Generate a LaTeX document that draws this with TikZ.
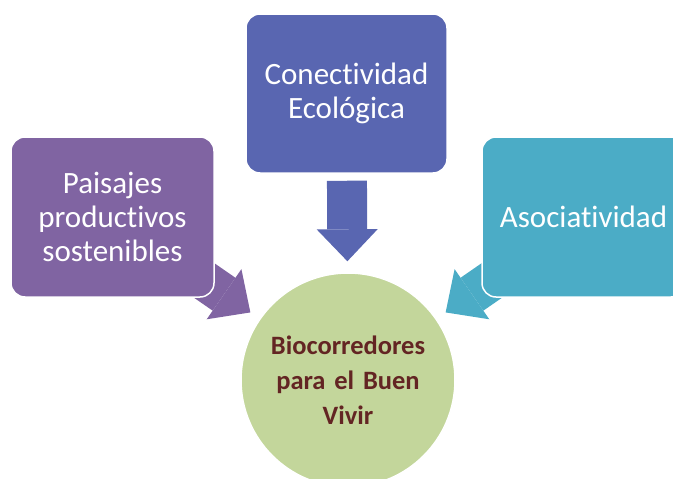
\documentclass[tikz,border=0pt]{standalone}
\usepackage{fontspec}
\setmainfont{Carlito}[Ligatures=NoCommon]
\usepackage{xcolor}
\usepackage{tikz}
\usetikzlibrary{arrows.meta, positioning, backgrounds}

\definecolor{paisaje}{HTML}{8064A2}
\definecolor{conect}{HTML}{5966B1}
\definecolor{asoc}{HTML}{4BACC6}
\definecolor{verde}{HTML}{C3D69B}
\definecolor{vino}{HTML}{632523}

\begin{document}
\begin{tikzpicture}[x=1pt, y=-1pt]
\tikzstyle{box} = [rectangle, rounded corners=14pt, draw=white, line width=1.5pt, minimum width=203pt, minimum height=160pt, text width=190pt, align=center, text=white, font=\fontsize{31}{34}\selectfont]
\tikzstyle{hub} = [circle, draw=white, line width=1.5pt, fill=verde, minimum size=214pt, text width=175pt, align=center, text=vino, font=\bfseries\fontsize{26.5}{35}\selectfont]
\tikzstyle{block} = [line width=40pt, -{Triangle[width=61pt, length=32pt, line width=0pt]}, shorten >=11pt]

\useasboundingbox (0,0) rectangle (673,479);

\node (bio) [hub] at (348,380) {Biocorredores\\para el Buen\\Vivir};
\node (con) [box, fill=conect, minimum width=201pt, minimum height=159pt] at (346.5,93.5) {Conectividad\\Ecológica};
\node (pai) [box, fill=paisaje] at (112.5,217) {Paisajes\\productivos\\sostenibles};
\node (aso) [box, fill=asoc] at (583.5,217) {Asociatividad};

% block arrows go under the boxes
\begin{scope}[on background layer]
\draw [block, conect, shorten <=7pt] (con) -- (bio);
\draw [block, paisaje] (pai.center) -- (bio);
\draw [block, asoc] (aso.center) -- (bio);
\end{scope}

\end{tikzpicture}
\end{document}
